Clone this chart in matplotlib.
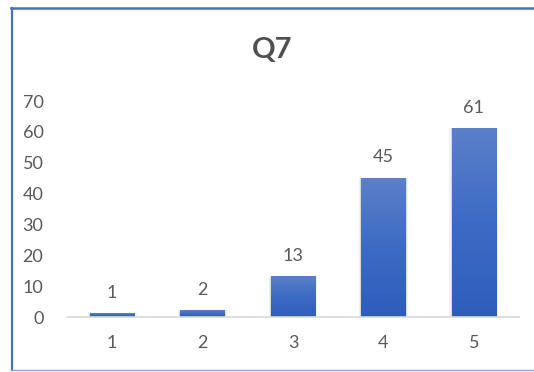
import numpy as np
import matplotlib
matplotlib.use("Agg")
import matplotlib.pyplot as plt
from matplotlib.colors import LinearSegmentedColormap
from matplotlib.patches import Rectangle

plt.rcParams['font.family'] = ['Lato', 'DejaVu Sans']

# answers to Q7, counted per rating
categories = ['1', '2', '3', '4', '5']
counts = [1, 2, 13, 45, 61]
yticks = [0, 10, 20, 30, 40, 50, 60, 70]

text_grey = '#595959'
bar_width = 0.49
# darker at the bottom, lighter at the top
grad = LinearSegmentedColormap.from_list('bar_grad', ['#2d5ebd', '#3d6ac4', '#5b80c9'])

fig = plt.figure(figsize=(5.34, 3.72), dpi=100)
ax = fig.add_axes([67 / 534, 1 - 317 / 372, 452 / 534, 216 / 372])

x = np.arange(len(categories))
bars = ax.bar(x, counts, width=bar_width, color='none', zorder=2)

# fill each bar with a vertical gradient plus a faint drop shadow
g = np.linspace(0, 1, 256).reshape(-1, 1)
for b, v in zip(bars, counts):
    x0 = b.get_x()
    w = b.get_width()
    for k, a in [(0.012, 0.10), (0.025, 0.05)]:
        ax.add_patch(Rectangle((x0 - k, 0), w + 2 * k, v + k * 8, color='#000000',
                               alpha=a, lw=0, zorder=1))
    ax.imshow(g, cmap=grad, origin='lower', aspect='auto',
              extent=(x0, x0 + w, 0, v), zorder=2)
    ax.text(b.get_x() + w / 2, v + 4.3, str(v), ha='center', va='bottom',
            fontsize=13, color=text_grey, clip_on=False)

ax.set_xlim(-0.5, len(categories) - 0.5)
ax.set_ylim(0, 70)
ax.set_xticks(x)
ax.set_xticklabels(categories)
ax.set_yticks(yticks)
ax.tick_params(axis='both', length=0, labelsize=13, labelcolor=text_grey)
ax.tick_params(axis='x', pad=13)
ax.tick_params(axis='y', pad=17)
for side in ['top', 'right', 'left']:
    ax.spines[side].set_visible(False)
ax.spines['bottom'].set_color('#d9d9d9')
ax.spines['bottom'].set_linewidth(1.2)
ax.spines['bottom'].set_zorder(3)

fig.text(0.51, 1 - 50 / 372, 'Q7', ha='center', va='center',
         fontsize=21, fontweight='bold', color='#505050')

# chart frame
fig.add_artist(plt.Line2D([11.5 / 534, 11.5 / 534], [1 - 8 / 372, 1 - 369.5 / 372],
                          transform=fig.transFigure, color='#4472c4', lw=1.6))
fig.add_artist(plt.Line2D([11 / 534, 1], [1 - 8 / 372, 1 - 8 / 372],
                          transform=fig.transFigure, color='#4472c4', lw=1.8))
fig.add_artist(plt.Line2D([11 / 534, 1], [1 - 370 / 372, 1 - 370 / 372],
                          transform=fig.transFigure, color='#8eaadb', lw=1.0))

fig.savefig('out.png', dpi=100, facecolor='white')
